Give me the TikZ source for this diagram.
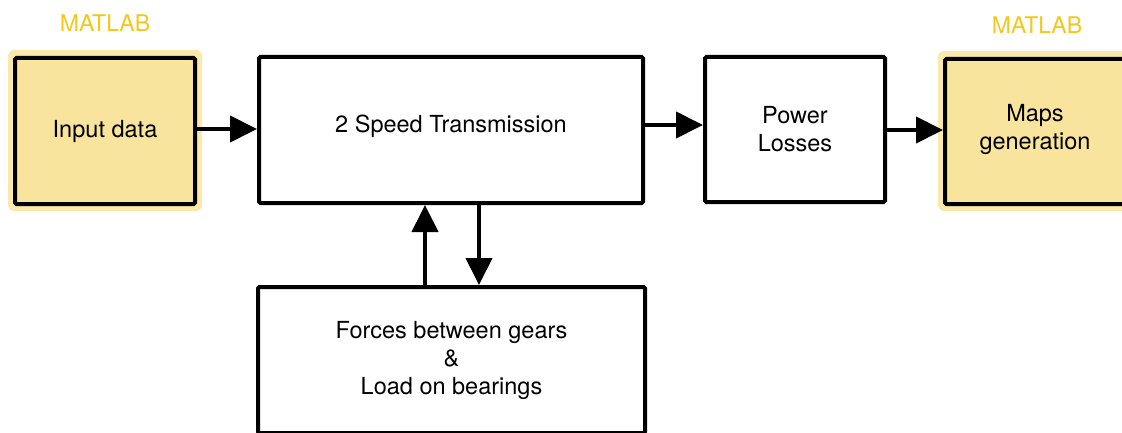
\documentclass[tikz,border=0pt]{standalone}
\usepackage{fontspec}
\setmainfont{TeX Gyre Heros}
\usetikzlibrary{arrows.meta,backgrounds}
\definecolor{matlabfill}{RGB}{248,228,156}
\definecolor{matlabglow}{RGB}{250,233,170}
\definecolor{matlabtext}{RGB}{243,199,28}
\begin{document}
\begin{tikzpicture}[x=1pt,y=-1pt,
  box/.style={draw, line width=4pt, rounded corners=1.5pt, inner sep=0pt,
    align=center, font=\fontsize{23.5}{28}\selectfont},
  matlabbox/.style={box, fill=matlabfill},
  tag/.style={text=matlabtext, font=\fontsize{23}{28}\selectfont, inner sep=0pt},
  flow/.style={line width=4pt, -{Triangle[length=27pt,width=26pt]}}]
\useasboundingbox (0,0) rectangle (1122,433);
\begin{scope}
\clip (0,0) rectangle (1122,433);
% blocks
\node[matlabbox, minimum width=180pt, minimum height=146pt] (in) at (105,131) {Input data};
\node[box, minimum width=384pt, minimum height=146pt, text depth=12pt] (tr) at (451,130) {2 Speed Transmission};
\node[box, minimum width=180pt, minimum height=145pt] (pl) at (795,129.5) {Power\\Losses};
\node[matlabbox, minimum width=180pt, minimum height=145pt, text depth=10pt] (mg) at (1035,131.5) {Maps\\generation};
\node[box, minimum width=387pt, minimum height=146pt] (fb) at (451.5,360) {Forces between gears\\\&\\Load on bearings};
% tool labels
\node[tag] (t1) at (105,23) {MATLAB};
\node[tag] (t2) at (1037,25) {MATLAB};
% connectors
\draw[flow] (in.east |- 0,129) -- (tr.west |- 0,129);
\draw[flow] (tr.east |- 0,125) -- (pl.west |- 0,125);
\draw[flow] (pl.east |- 0,130) -- (mg.west |- 0,130);
\draw[flow] (fb.north -| 425,0) -- (tr.south -| 425,0);
\draw[flow] (tr.south -| 479,0) -- (fb.north -| 479,0);
\end{scope}
\begin{scope}[on background layer]
\clip (0,0) rectangle (1122,433);
\fill[matlabglow, rounded corners=6pt] ([shift={(-5pt,6pt)}]in.north west) rectangle ([shift={(5pt,-5pt)}]in.south east);
\fill[matlabglow, rounded corners=6pt] ([shift={(-5pt,6pt)}]mg.north west) rectangle ([shift={(5pt,-5pt)}]mg.south east);
\end{scope}
\end{tikzpicture}
\end{document}
